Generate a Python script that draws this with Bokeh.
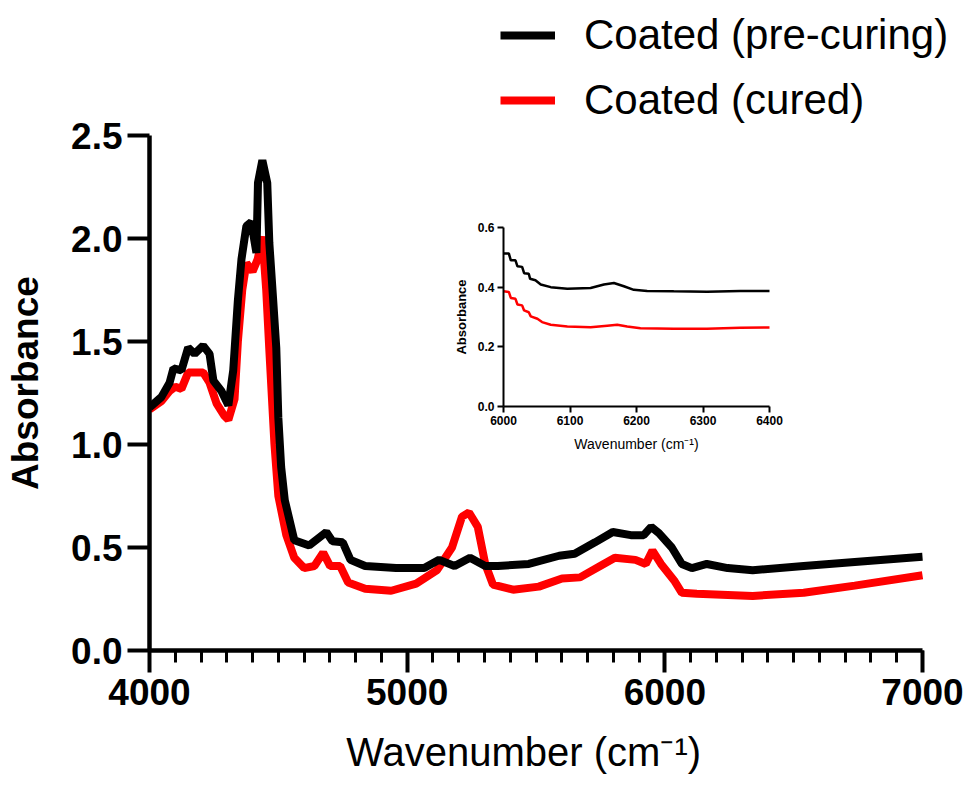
from bokeh.plotting import figure
from bokeh.models import (FixedTicker, NumeralTickFormatter, Legend, LegendItem, Range1d,
                          LinearAxis)
from bokeh.embed import file_html
from bokeh.resources import INLINE

FONT = "Liberation Sans"

# ---------------- data ----------------
pre_w = [4000, 4046, 4078, 4093, 4124, 4150, 4175, 4208, 4233, 4248, 4279, 4306, 4325, 4343,
         4357, 4376, 4395, 4415, 4421, 4438, 4457, 4465, 4479, 4492, 4500, 4511, 4525, 4562,
         4620, 4686, 4710, 4750, 4780, 4837, 4957, 5066, 5124, 5184, 5244, 5303, 5352, 5472,
         5590, 5650, 5729, 5798, 5868, 5918, 5947, 5977, 6027, 6066, 6105, 6163, 6244, 6341,
         6539, 6737, 7000]
pre_a = [1.18, 1.23, 1.30, 1.37, 1.36, 1.47, 1.44, 1.48, 1.44, 1.31, 1.26, 1.19, 1.36, 1.70,
         1.90, 2.06, 2.08, 1.93, 2.27, 2.38, 2.27, 1.98, 1.72, 1.47, 1.13, 0.89, 0.73, 0.535,
         0.51, 0.575, 0.53, 0.525, 0.44, 0.41, 0.40, 0.40, 0.44, 0.41, 0.45, 0.41, 0.41, 0.42,
         0.46, 0.47, 0.525, 0.575, 0.56, 0.56, 0.60, 0.57, 0.50, 0.42, 0.40, 0.42, 0.40, 0.39,
         0.41, 0.43, 0.455]

cur_w = [4000, 4046, 4078, 4100, 4124, 4150, 4175, 4208, 4233, 4260, 4290, 4306, 4330, 4343,
         4360, 4376, 4400, 4420, 4438, 4453, 4465, 4485, 4500, 4531, 4562, 4600, 4640, 4674,
         4701, 4740, 4771, 4837, 4938, 5035, 5116, 5174, 5213, 5240, 5274, 5303, 5333, 5411,
         5511, 5601, 5671, 5749, 5806, 5886, 5926, 5952, 5985, 6036, 6066, 6124, 6341, 6539,
         6737, 7000]
cur_a = [1.17, 1.21, 1.26, 1.28, 1.27, 1.35, 1.35, 1.35, 1.30, 1.20, 1.14, 1.12, 1.22, 1.50,
         1.75, 1.88, 1.84, 1.90, 2.01, 1.75, 1.46, 1.00, 0.75, 0.56, 0.45, 0.40, 0.41, 0.475,
         0.41, 0.41, 0.33, 0.30, 0.29, 0.325, 0.39, 0.50, 0.65, 0.67, 0.60, 0.42, 0.32, 0.295,
         0.31, 0.35, 0.355, 0.41, 0.45, 0.44, 0.42, 0.485, 0.42, 0.34, 0.28, 0.275, 0.265, 0.28,
         0.315, 0.365]

ins_pre_w = [6000, 6008, 6011, 6018, 6021, 6028, 6031, 6038, 6040, 6048, 6056, 6071, 6096,
             6131, 6151, 6166, 6181, 6196, 6216, 6256, 6306, 6356, 6400]
ins_pre_a = [0.513, 0.513, 0.49, 0.49, 0.47, 0.468, 0.447, 0.445, 0.428, 0.423, 0.409, 0.400,
             0.395, 0.397, 0.409, 0.414, 0.403, 0.391, 0.387, 0.386, 0.385, 0.387, 0.387]
ins_cur_w = [6000, 6008, 6011, 6018, 6021, 6028, 6031, 6038, 6041, 6051, 6058, 6071, 6096,
             6131, 6156, 6171, 6186, 6206, 6256, 6306, 6356, 6400]
ins_cur_a = [0.386, 0.384, 0.364, 0.361, 0.342, 0.339, 0.322, 0.316, 0.302, 0.294, 0.283,
             0.274, 0.268, 0.266, 0.271, 0.274, 0.268, 0.262, 0.261, 0.261, 0.264, 0.265]

labels = ["Coated (pre-curing)", "Coated (cured)"]
colors = ["black", "red"]
main_xlim = (4000, 7000)
main_ylim = (0.0, 2.5)
main_xticks = [4000, 5000, 6000, 7000]
main_xminor = list(range(4000, 7001, 100))
main_yticks = [0.0, 0.5, 1.0, 1.5, 2.0, 2.5]
ins_xlim = (6000, 6400)
ins_ylim = (0.0, 0.6)
ins_xticks = [6000, 6100, 6200, 6300, 6400]
ins_yticks = [0.0, 0.2, 0.4, 0.6]

# ---------------- layout (canvas pixels) ----------------
W, H = 966, 796
AL, AR, AT, AB = 149, 922, 135, 650          # main axes box
FL, FR, FT, FB = AL, W - 2, 2, AB            # whole frame (room for legend)
IL, IR, IT, IB = 503, 769, 227, 406          # inset axes box
NB = "\u00a0"                                # keeps axis titles centred on the axes box


def ext_range(lim, a0, a1, f0, f1):
    s = (lim[1] - lim[0]) / (a1 - a0)
    return Range1d(lim[0] - (a0 - f0) * s, lim[1] + (f1 - a1) * s)


x_range = ext_range(main_xlim, AL, AR, FL, FR)
y_range = ext_range(main_ylim, AB, AT, FB, FT)     # pixel y grows downwards
ix_range = ext_range(ins_xlim, IL, IR, FL, FR)
iy_range = ext_range(ins_ylim, IB, IT, FB, FT)

p = figure(width=W, height=H, x_range=x_range, y_range=y_range,
           output_backend="svg", toolbar_location=None,
           min_border_left=FL, min_border_right=W - FR, min_border_top=FT,
           min_border_bottom=H - FB)
p.extra_x_ranges = {"ix": ix_range}
p.extra_y_ranges = {"iy": iy_range}
p.outline_line_color = None
p.xgrid.visible = False
p.ygrid.visible = False

rr = p.line(cur_w, cur_a, line_color=colors[1], line_width=8)
rb = p.line(pre_w, pre_a, line_color=colors[0], line_width=8)

for ax in (p.xaxis[0], p.yaxis[0]):
    ax.axis_line_width = 4.5
    ax.major_tick_line_width = 4
    ax.minor_tick_line_width = 3
    ax.major_tick_in = 0
    ax.minor_tick_in = 0
    ax.major_tick_out = 22
    ax.minor_tick_out = 12
    ax.major_label_text_font = FONT
    ax.major_label_text_font_style = "bold"
    ax.major_label_text_font_size = "37px"
    ax.major_label_text_color = "black"
    ax.axis_label_text_font = FONT
    ax.axis_label_text_color = "black"

p.xaxis[0].bounds = main_xlim
p.yaxis[0].bounds = main_ylim
p.xaxis[0].ticker = FixedTicker(ticks=main_xticks, minor_ticks=main_xminor)
p.yaxis[0].ticker = FixedTicker(ticks=main_yticks, minor_ticks=[])
p.yaxis[0].formatter = NumeralTickFormatter(format="0.0")
p.xaxis[0].major_label_standoff = 6
p.yaxis[0].major_label_standoff = 5
p.xaxis[0].axis_label = "Wavenumber (cm\u207b\u00b9)" + NB * 6
p.xaxis[0].axis_label_text_font_size = "40px"
p.xaxis[0].axis_label_text_font_style = "normal"
p.xaxis[0].axis_label_standoff = 22
p.yaxis[0].axis_label = "Absorbance" + NB * 11
p.yaxis[0].axis_label_text_font_size = "37px"
p.yaxis[0].axis_label_text_font_style = "bold"
p.yaxis[0].axis_label_standoff = 22

# ---------------- inset (drawn on the extra ranges) ----------------
p.line(ins_cur_w, ins_cur_a, line_color=colors[1], line_width=2.5,
       x_range_name="ix", y_range_name="iy")
p.line(ins_pre_w, ins_pre_a, line_color=colors[0], line_width=2.5,
       x_range_name="ix", y_range_name="iy")

iax_x = LinearAxis(x_range_name="ix", y_range_name="iy", fixed_location=ins_ylim[0],
                   bounds=ins_xlim, ticker=FixedTicker(ticks=ins_xticks, minor_ticks=[]))
iax_y = LinearAxis(x_range_name="ix", y_range_name="iy", fixed_location=ins_xlim[0],
                   bounds=ins_ylim, ticker=FixedTicker(ticks=ins_yticks, minor_ticks=[]),
                   formatter=NumeralTickFormatter(format="0.0"))
for ax in (iax_x, iax_y):
    ax.axis_line_width = 2
    ax.major_tick_line_width = 2
    ax.major_tick_in = 0
    ax.major_tick_out = 6
    ax.minor_tick_out = 0
    ax.minor_tick_in = 0
    ax.major_label_text_font = FONT
    ax.major_label_text_font_style = "bold"
    ax.major_label_text_font_size = "12px"
    ax.major_label_text_color = "black"
    ax.axis_label_text_font = FONT
    ax.axis_label_text_color = "black"
    ax.major_label_standoff = 3
iax_x.axis_label = "Wavenumber (cm\u207b\u00b9)"
iax_x.axis_label_text_font_size = "14px"
iax_x.axis_label_text_font_style = "normal"
iax_x.axis_label_standoff = 8
iax_y.axis_label = "Absorbance"
iax_y.axis_label_text_font_size = "13px"
iax_y.axis_label_text_font_style = "bold"
iax_y.axis_label_standoff = 6
p.add_layout(iax_x, "below")
p.add_layout(iax_y, "left")

# ---------------- legend (inside the enlarged frame) ----------------
legend = Legend(items=[LegendItem(label=labels[0], renderers=[rb]),
                       LegendItem(label=labels[1], renderers=[rr])],
                location=(500 - FL, FB - 124), orientation="vertical")
legend.label_text_font = FONT
legend.label_text_font_size = "42px"
legend.label_text_color = "black"
legend.glyph_width = 55
legend.glyph_height = 48
legend.label_height = 48
legend.label_standoff = 29
legend.spacing = 17
legend.padding = 0
legend.margin = 0
legend.border_line_alpha = 0
legend.background_fill_alpha = 0
p.add_layout(legend, "center")

open("out.html", "w").write(file_html(p, INLINE))
